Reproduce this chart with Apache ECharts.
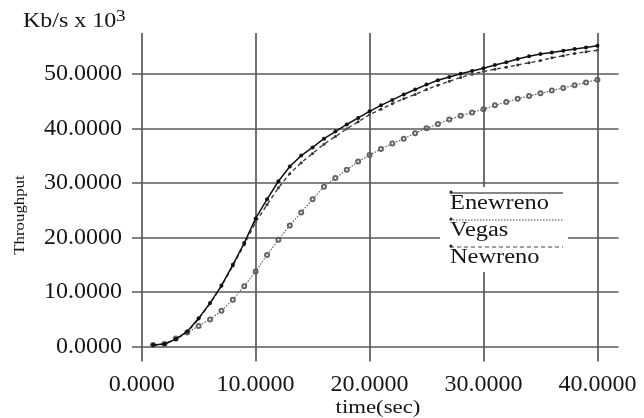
<!DOCTYPE html>
<html>
<head>
<meta charset="utf-8">
<script src="https://cdn.jsdelivr.net/npm/echarts@6/dist/echarts.min.js"></script>
<style>
  html, body { margin: 0; padding: 0; background: #fff; }
  #chart { width: 644px; height: 418px; }
</style>
</head>
<body>
<div id="chart"></div>
<script>
// Throughput (Kb/s x 10^3) of three TCP variants over time
const time = [1,2,3,4,5,6,7,8,9,10,11,12,13,14,15,16,17,18,19,20,
              21,22,23,24,25,26,27,28,29,30,31,32,33,34,35,36,37,38,39,40];

const enewreno = [0.3,0.5,1.4,2.8,5.2,8.0,11.2,15.0,19.0,23.5,
                  27.0,30.3,33.0,35.0,36.5,38.1,39.4,40.7,41.9,43.1,
                  44.2,45.2,46.2,47.1,48.0,48.8,49.4,50.0,50.5,51.0,
                  51.6,52.1,52.7,53.2,53.6,53.9,54.2,54.5,54.8,55.1];

const vegas = [0.3,0.5,1.5,2.6,3.8,5.0,6.6,8.6,11.1,13.8,
               16.8,19.6,22.2,24.6,27.0,29.3,30.9,32.4,33.9,35.1,
               36.2,37.2,38.1,39.1,40.0,40.8,41.6,42.3,42.9,43.5,
               44.2,44.8,45.4,45.9,46.4,46.9,47.4,47.9,48.4,48.9];

const newreno = [0.3,0.5,1.3,2.7,5.1,7.9,11.1,14.8,18.7,22.8,
                 26.0,29.1,31.7,33.7,35.4,37.1,38.5,39.9,41.2,42.5,
                 43.5,44.5,45.4,46.2,47.1,47.9,48.6,49.3,49.9,50.4,
                 50.8,51.2,51.6,52.0,52.4,52.9,53.3,53.7,54.0,54.3];

const seriesNames = ['Enewreno', 'Vegas', 'Newreno'];
const xTicks = [0, 10, 20, 30, 40];
const yTicks = [0, 10, 20, 30, 40, 50];

const serif = "'Liberation Serif', 'Times New Roman', serif";
const ink = '#151515';
const gridColor = '#5a5a5a';

const pairs = vals => time.map((t, i) => [t, vals[i]]);

const chart = echarts.init(document.getElementById('chart'), null, { renderer: 'canvas' });

// legend block: a white panel with a sample line above each name
const legendLeft = 450, legendRight = 563;
const legendRows = [
  { y: 193, dash: null, color: '#111', width: 1.2 },
  { y: 220, dash: [1.5, 1.5], color: '#444', width: 1.1 },
  { y: 247, dash: [4, 3], color: '#444', width: 1.1 }
];
const legendGraphics = [
  { type: 'rect', shape: { x: 440, y: 187, width: 128, height: 85 },
    style: { fill: '#fff' }, z: 10, silent: true }
];
seriesNames.forEach((name, i) => {
  const row = legendRows[i];
  legendGraphics.push({
    type: 'line', z: 11, silent: true,
    shape: { x1: legendLeft, y1: row.y, x2: legendRight, y2: row.y },
    style: { stroke: row.color, lineWidth: row.width, lineDash: row.dash }
  });
  legendGraphics.push({
    type: 'circle', z: 11, silent: true,
    shape: { cx: legendLeft + 1, cy: row.y - 1, r: 1.6 },
    style: { fill: '#222' }
  });
  legendGraphics.push({
    type: 'text', z: 11, silent: true,
    x: legendLeft, y: row.y + 11, scaleX: 1.22,
    style: { text: name, font: '20px ' + serif, fill: ink,
             textAlign: 'left', textVerticalAlign: 'middle' }
  });
});

const option = {
  backgroundColor: '#fff',
  animation: false,
  grid: { left: 132, top: 33, right: 25.5, bottom: 56.5, outerBoundsMode: 'none' },
  xAxis: {
    type: 'value', min: -0.85, max: 41.85,
    axisLine: { show: false, onZero: false },
    axisTick: { show: false },
    splitLine: { show: false },
    axisLabel: {
      customValues: xTicks,
      formatter: v => v.toFixed(4),
      fontFamily: serif, fontSize: 24, color: ink, margin: 11
    }
  },
  yAxis: {
    type: 'value', min: -2.7, max: 57.45,
    axisLine: { show: false, onZero: false },
    axisTick: { show: false },
    splitLine: { show: false },
    axisLabel: {
      customValues: yTicks,
      formatter: v => v.toFixed(4),
      fontFamily: serif, fontSize: 24, color: ink, margin: 10
    }
  },
  graphic: [
    { type: 'text', x: 23, y: 32, scaleX: 1.2,
      style: { text: 'Kb/s x 10', font: '20px ' + serif, fill: ink,
               textAlign: 'left', textVerticalAlign: 'bottom' } },
    { type: 'text', x: 116, y: 25, scaleX: 1.2,
      style: { text: '3', font: '16px ' + serif, fill: ink,
               textAlign: 'left', textVerticalAlign: 'bottom' } },
    { type: 'text', x: 20, y: 215, rotation: Math.PI / 2, scaleX: 1.2,
      style: { text: 'Throughput', font: '14px ' + serif, fill: ink,
               textAlign: 'center', textVerticalAlign: 'middle' } },
    { type: 'text', x: 378, y: 408, scaleX: 1.2,
      style: { text: 'time(sec)', font: '19px ' + serif, fill: ink,
               textAlign: 'center', textVerticalAlign: 'middle' } }
  ].concat(legendGraphics),
  series: [
    {
      // reference grid: lines at every labelled tick
      type: 'line', data: [], silent: true, z: 1,
      markLine: {
        silent: true, symbol: 'none', animation: false,
        label: { show: false },
        lineStyle: { color: gridColor, width: 1.7, type: 'solid' },
        emphasis: { disabled: true },
        data: xTicks.map(v => ({ xAxis: v })).concat(yTicks.map(v => ({ yAxis: v })))
      }
    },
    {
      name: seriesNames[1], type: 'line', data: pairs(vegas), z: 3,
      symbol: 'emptyCircle', symbolSize: 4, showSymbol: true, showAllSymbol: true,
      lineStyle: { color: '#555', width: 1.1, type: [1.5, 1.5] },
      itemStyle: { color: '#666', borderWidth: 0.8 }
    },
    {
      name: seriesNames[2], type: 'line', data: pairs(newreno), z: 4,
      symbol: 'circle', symbolSize: 3, showSymbol: true, showAllSymbol: true,
      lineStyle: { color: '#333', width: 1.3, type: [4, 3] },
      itemStyle: { color: '#333' }
    },
    {
      name: seriesNames[0], type: 'line', data: pairs(enewreno), z: 5,
      symbol: 'circle', symbolSize: 4, showSymbol: true, showAllSymbol: true,
      lineStyle: { color: '#111', width: 1.5, type: 'solid' },
      itemStyle: { color: '#111' }
    }
  ]
};

chart.setOption(option);
</script>
</body>
</html>
